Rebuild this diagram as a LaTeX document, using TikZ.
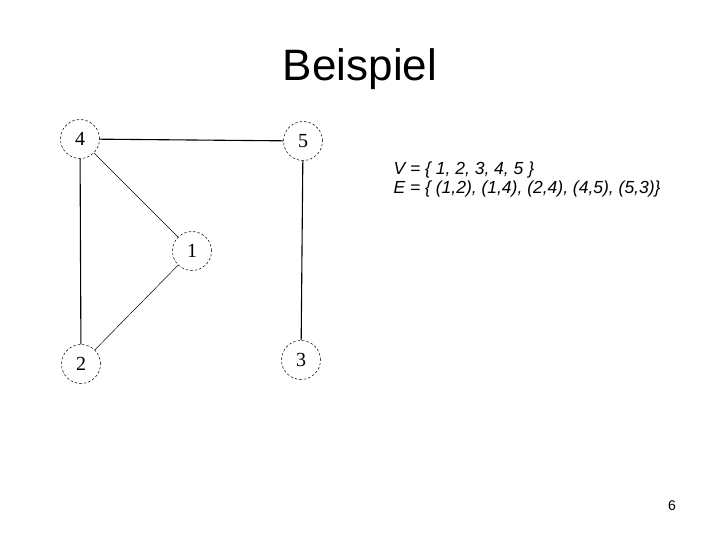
\documentclass[tikz,border=0pt]{standalone}
\usepackage{fontspec}
\setmainfont{Liberation Serif}
\newfontfamily\arialfont{Liberation Sans}
\usetikzlibrary{shapes,positioning,calc}

\begin{document}
\begin{tikzpicture}
  [x=1pt,y=-1pt,
   vertexN/.style={circle,draw,dashed,dash pattern=on 2.5pt off 2pt,
     line width=0.5pt,minimum size=39pt,inner sep=0pt,
     font=\fontsize{20}{20}\selectfont},
   heavyE/.style={line width=1.1pt},
   lightE/.style={line width=0.5pt}]

  \useasboundingbox (0,0) rectangle (720,540);

  \node[font=\arialfont\fontsize{44}{48}\selectfont] (title) at (360,69) {Beispiel};

  \path (80,139)  node[vertexN] (v4) {4}
        (303,141) node[vertexN] (v5) {5}
        (192,251) node[vertexN] (v1) {1}
        (81,364)  node[vertexN] (v2) {2}
        (301,360) node[vertexN] (v3) {3};

  \draw [heavyE] (v4) -- (v5);
  \draw [heavyE] (v4) -- (v2);
  \draw [heavyE] (v5) -- (v3);

  \draw [lightE] (v4) -- (v1);
  \draw [lightE] (v1) -- (v2);

  \node[anchor=base west,align=left,font=\arialfont\itshape\fontsize{17.5}{19}\selectfont]
    (sets) at (390,194) {V = \{ 1, 2, 3, 4, 5 \}\\E = \{ (1,2), (1,4), (2,4), (4,5), (5,3)\}};

  \node[anchor=base,font=\arialfont\fontsize{14}{14}\selectfont] (page) at (672,510) {6};

\end{tikzpicture}
\end{document}
